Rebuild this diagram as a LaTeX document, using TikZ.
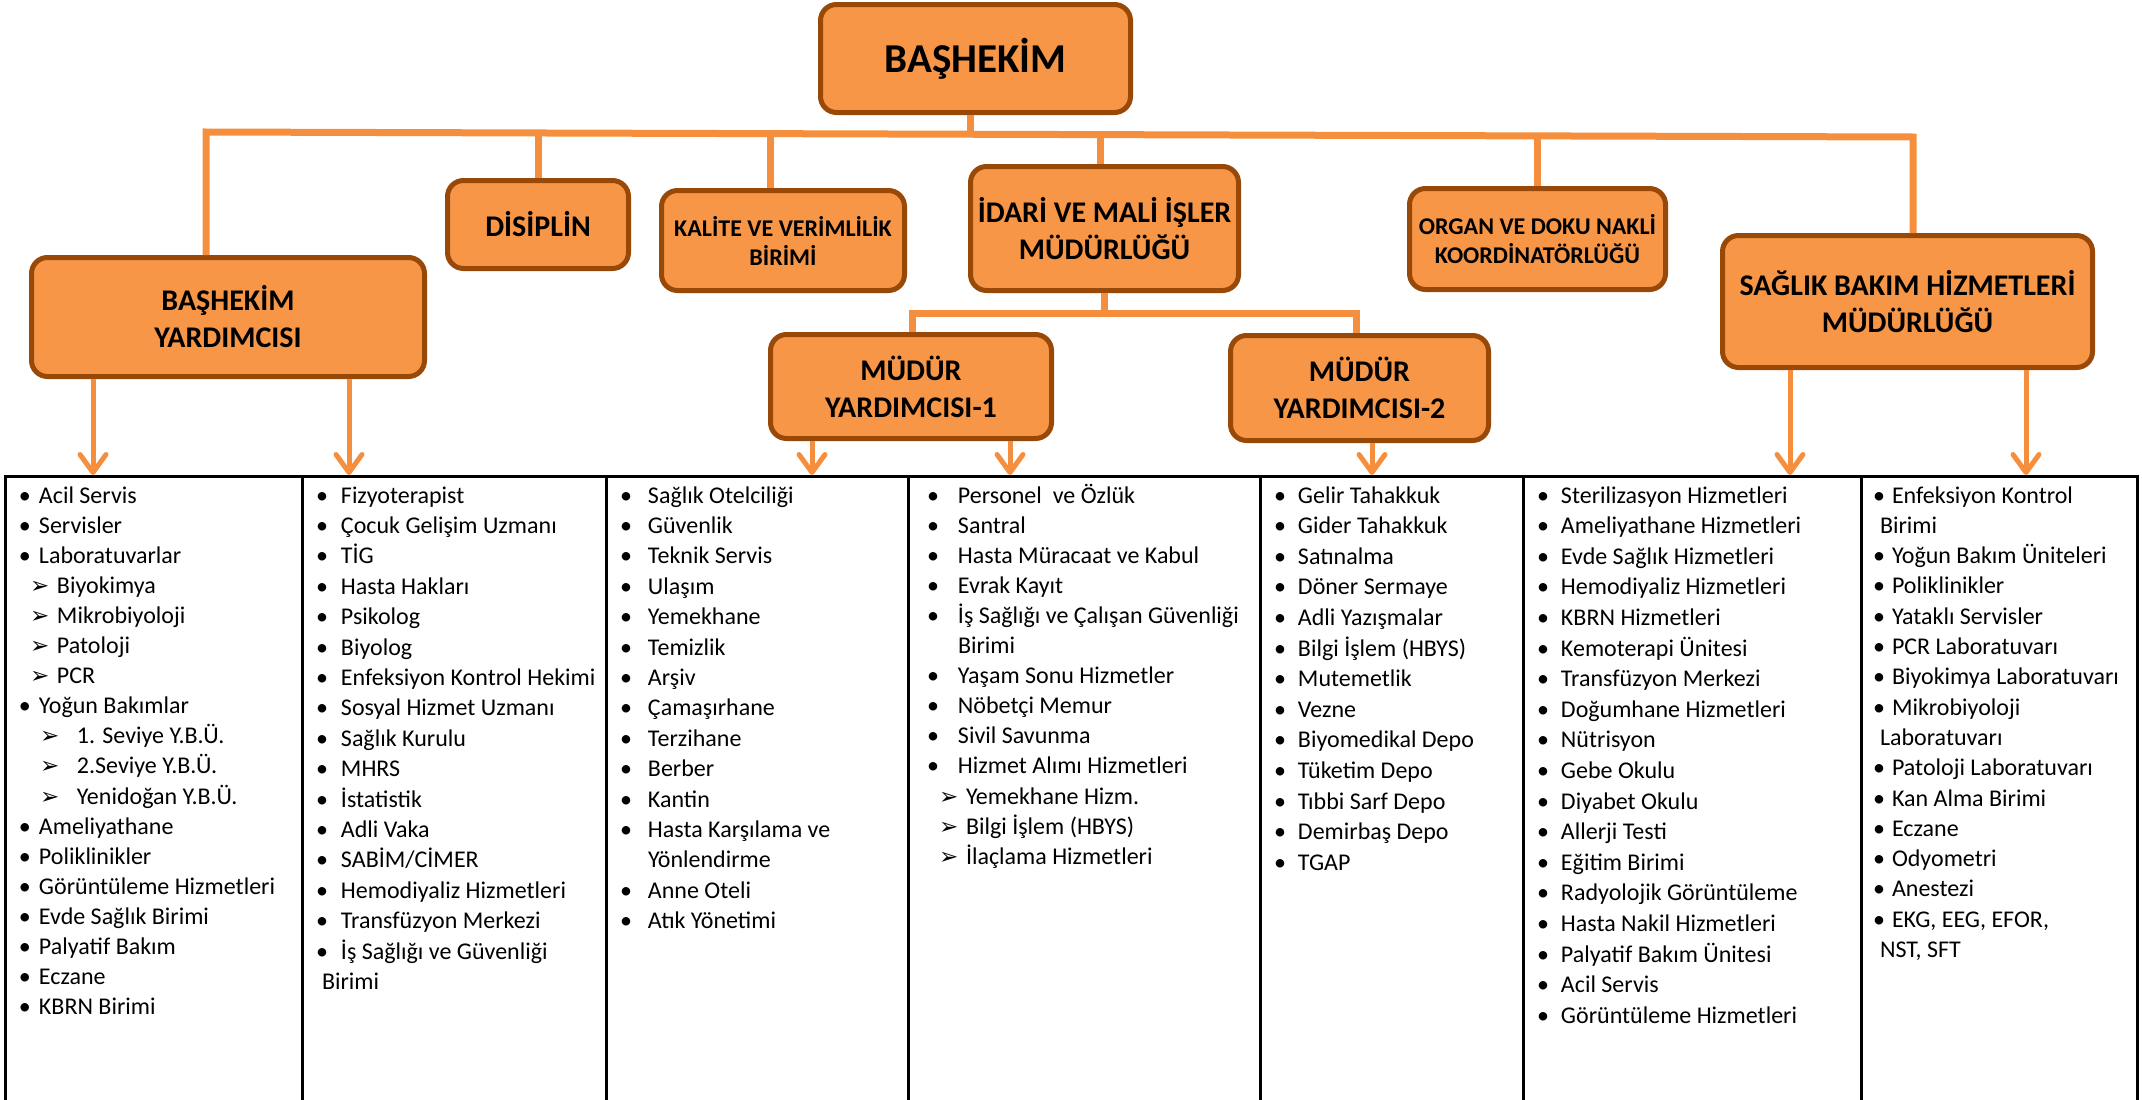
\documentclass[tikz,border=0pt]{standalone}
\usepackage{fontspec}
\setmainfont{Carlito}
\newfontfamily\dejavu{DejaVu Sans}
\usetikzlibrary{arrows.meta}
\definecolor{boxfill}{HTML}{F79646}
\definecolor{boxedge}{HTML}{984807}
\definecolor{linkc}{RGB}{245,143,62}
\newcommand\bl[1]{\makebox[#1][l]{•}}
\newcommand\ar[2]{\hspace*{#1}\makebox[#2][l]{{\dejavu\fontsize{23}{23}\selectfont ➢}}}
\newcommand\ind[1]{\hspace*{#1}}
\tikzset{
  obox/.style={draw=boxedge, fill=boxfill, line width=5pt, rounded corners=16pt,
    align=center, inner sep=0pt, font=\bfseries\fontsize{30}{37}\selectfont},
  sbox/.style={obox, font=\bfseries\fontsize{24}{29}\selectfont},
  link/.style={draw=linkc, line width=7pt},
  arr/.style={draw=linkc, line width=5pt, -{Straight Barb[length=18pt,width=26pt,round]}},
  tbl/.style={draw=black, line width=3pt},
  lst/.style={anchor=base west, inner sep=0pt, outer sep=0pt, font=\fontsize{24}{#1}\selectfont},
}
\begin{document}
\begin{tikzpicture}[x=1pt,y=-1pt]
\useasboundingbox (0,0) rectangle (2142,1100);
% boxes
\node[obox, minimum width=310pt, minimum height=108pt, font=\bfseries\fontsize{41}{44}\selectfont] (bas) at (975.5,58.5) {BAŞHEKİM};
\node[obox, minimum width=393pt, minimum height=119pt] (by) at (228,317) {BAŞHEKİM\\YARDIMCISI};
\node[obox, minimum width=181pt, minimum height=88pt] (dis) at (538,224.5) {DİSİPLİN};
\node[sbox, minimum width=243pt, minimum height=100pt] (kal) at (783,240.5) {KALİTE VE VERİMLİLİK\\BİRİMİ};
\node[obox, minimum width=268pt, minimum height=124pt] (ida) at (1104.5,228.5) {İDARİ VE MALİ İŞLER\\MÜDÜRLÜĞÜ};
\node[obox, minimum width=281pt, minimum height=104pt] (my1) at (911,386.5) {MÜDÜR\\YARDIMCISI-1};
\node[obox, minimum width=258pt, minimum height=105pt] (my2) at (1359.5,388) {MÜDÜR\\YARDIMCISI-2};
\node[sbox, minimum width=256pt, minimum height=101pt] (org) at (1537.5,239) {ORGAN VE DOKU NAKLİ\\KOORDİNATÖRLÜĞÜ};
\node[obox, minimum width=370pt, minimum height=132pt] (sag) at (1907.5,301.5) {SAĞLIK BAKIM HİZMETLERİ\\MÜDÜRLÜĞÜ};
% bus coordinates
\coordinate (bL) at (206,132);
\coordinate (bR) at (1913,137);
\coordinate (jbas) at (970,134.2);
\coordinate (jdis) at (538,133);
\coordinate (jkal) at (770,133.6);
\coordinate (jida) at (1100,134.6);
\coordinate (jorg) at (1537,135.9);
\coordinate (kI) at (1104,313);
\coordinate (kL) at (912,313);
\coordinate (kR) at (1356,313);
\draw[link] (by.north -| bL) -- (bL) -- (bR) -- (sag.north -| bR);
\draw[link] (bas.south -| jbas) -- (jbas);
\draw[link] (jdis) -- (jdis |- dis.north);
\draw[link] (jkal) -- (jkal |- kal.north);
\draw[link] (jida) -- (jida |- ida.north);
\draw[link] (jorg) -- (jorg |- org.north);
\draw[link] (ida.south -| kI) -- (kI);
\draw[link] (my1.north -| kL) -- (kL) -- (kR) -- (my2.north -| kR);
% arrow ends
\coordinate (t1) at (93,475);
\coordinate (t2) at (349,475);
\coordinate (t3) at (812,475);
\coordinate (t4) at (1010,475);
\coordinate (t5) at (1372,475);
\coordinate (t6) at (1790,475);
\coordinate (t7) at (2026,475);
\draw[arr] (by.south -| t1) -- (t1);
\draw[arr] (by.south -| t2) -- (t2);
\draw[arr] (my1.south -| t3) -- (t3);
\draw[arr] (my1.south -| t4) -- (t4);
\draw[arr] (my2.south -| t5) -- (t5);
\draw[arr] (sag.south -| t6) -- (t6);
\draw[arr] (sag.south -| t7) -- (t7);
% table
\draw[tbl] (5,1102) -- (5,476) -- (2137,476) -- (2137,1102);
\foreach \xx in {302,606,908,1260,1523,1861} { \draw[tbl] (\xx,476) -- (\xx,1102); }
% lists
\node[lst=30.1] (c1) at (19,503) {\parbox[t]{290pt}{\raggedright
\bl{20pt}Acil Servis\\
\bl{20pt}Servisler\\
\bl{20pt}Laboratuvarlar\\
\ar{11pt}{27pt}Biyokimya\\
\ar{11pt}{27pt}Mikrobiyoloji\\
\ar{11pt}{27pt}Patoloji\\
\ar{11pt}{27pt}PCR\\
\bl{20pt}Yoğun Bakımlar\\
\ar{21pt}{37pt}1. Seviye Y.B.Ü.\\
\ar{21pt}{37pt}2.Seviye Y.B.Ü.\\
\ar{21pt}{37pt}Yenidoğan Y.B.Ü.\\
\bl{20pt}Ameliyathane\\
\bl{20pt}Poliklinikler\\
\bl{20pt}Görüntüleme Hizmetleri\\
\bl{20pt}Evde Sağlık Birimi\\
\bl{20pt}Palyatif Bakım\\
\bl{20pt}Eczane\\
\bl{20pt}KBRN Birimi}};
\node[lst=30.4] (c2) at (316,503) {\parbox[t]{400pt}{\raggedright
\bl{25pt}Fizyoterapist\\
\bl{25pt}Çocuk Gelişim Uzmanı\\
\bl{25pt}TİG\\
\bl{25pt}Hasta Hakları\\
\bl{25pt}Psikolog\\
\bl{25pt}Biyolog\\
\bl{25pt}Enfeksiyon Kontrol Hekimi\\
\bl{25pt}Sosyal Hizmet Uzmanı\\
\bl{25pt}Sağlık Kurulu\\
\bl{25pt}MHRS\\
\bl{25pt}İstatistik\\
\bl{25pt}Adli Vaka\\
\bl{25pt}SABİM/CİMER\\
\bl{25pt}Hemodiyaliz Hizmetleri\\
\bl{25pt}Transfüzyon Merkezi\\
\bl{25pt}İş Sağlığı ve Güvenliği\\
\ind{6pt}Birimi}};
\node[lst=30.4] (c3) at (620,503) {\parbox[t]{400pt}{\raggedright
\bl{28pt}Sağlık Otelciliği\\
\bl{28pt}Güvenlik\\
\bl{28pt}Teknik Servis\\
\bl{28pt}Ulaşım\\
\bl{28pt}Yemekhane\\
\bl{28pt}Temizlik\\
\bl{28pt}Arşiv\\
\bl{28pt}Çamaşırhane\\
\bl{28pt}Terzihane\\
\bl{28pt}Berber\\
\bl{28pt}Kantin\\
\bl{28pt}Hasta Karşılama ve\\
\ind{28pt}Yönlendirme\\
\bl{28pt}Anne Oteli\\
\bl{28pt}Atık Yönetimi}};
\node[lst=30.1] (c4) at (927,503) {\parbox[t]{400pt}{\raggedright
\bl{31pt}Personel\ \ ve Özlük\\
\bl{31pt}Santral\\
\bl{31pt}Hasta Müracaat ve Kabul\\
\bl{31pt}Evrak Kayıt\\
\bl{31pt}İş Sağlığı ve Çalışan Güvenliği\\
\ind{31pt}Birimi\\
\bl{31pt}Yaşam Sonu Hizmetler\\
\bl{31pt}Nöbetçi Memur\\
\bl{31pt}Sivil Savunma\\
\bl{31pt}Hizmet Alımı Hizmetleri\\
\ar{12pt}{27pt}Yemekhane Hizm.\\
\ar{12pt}{27pt}Bilgi İşlem (HBYS)\\
\ar{12pt}{27pt}İlaçlama Hizmetleri}};
\node[lst=30.6] (c5) at (1274,503) {\parbox[t]{400pt}{\raggedright
\bl{24pt}Gelir Tahakkuk\\
\bl{24pt}Gider Tahakkuk\\
\bl{24pt}Satınalma\\
\bl{24pt}Döner Sermaye\\
\bl{24pt}Adli Yazışmalar\\
\bl{24pt}Bilgi İşlem (HBYS)\\
\bl{24pt}Mutemetlik\\
\bl{24pt}Vezne\\
\bl{24pt}Biyomedikal Depo\\
\bl{24pt}Tüketim Depo\\
\bl{24pt}Tıbbi Sarf Depo\\
\bl{24pt}Demirbaş Depo\\
\bl{24pt}TGAP}};
\node[lst=30.6] (c6) at (1537,503) {\parbox[t]{400pt}{\raggedright
\bl{24pt}Sterilizasyon Hizmetleri\\
\bl{24pt}Ameliyathane Hizmetleri\\
\bl{24pt}Evde Sağlık Hizmetleri\\
\bl{24pt}Hemodiyaliz Hizmetleri\\
\bl{24pt}KBRN Hizmetleri\\
\bl{24pt}Kemoterapi Ünitesi\\
\bl{24pt}Transfüzyon Merkezi\\
\bl{24pt}Doğumhane Hizmetleri\\
\bl{24pt}Nütrisyon\\
\bl{24pt}Gebe Okulu\\
\bl{24pt}Diyabet Okulu\\
\bl{24pt}Allerji Testi\\
\bl{24pt}Eğitim Birimi\\
\bl{24pt}Radyolojik Görüntüleme\\
\bl{24pt}Hasta Nakil Hizmetleri\\
\bl{24pt}Palyatif Bakım Ünitesi\\
\bl{24pt}Acil Servis\\
\bl{24pt}Görüntüleme Hizmetleri}};
\node[lst=30.3] (c7) at (1873,503) {\parbox[t]{400pt}{\raggedright
\bl{19pt}Enfeksiyon Kontrol\\
\ind{7pt}Birimi\\
\bl{19pt}Yoğun Bakım Üniteleri\\
\bl{19pt}Poliklinikler\\
\bl{19pt}Yataklı Servisler\\
\bl{19pt}PCR Laboratuvarı\\
\bl{19pt}Biyokimya Laboratuvarı\\
\bl{19pt}Mikrobiyoloji\\
\ind{7pt}Laboratuvarı\\
\bl{19pt}Patoloji Laboratuvarı\\
\bl{19pt}Kan Alma Birimi\\
\bl{19pt}Eczane\\
\bl{19pt}Odyometri\\
\bl{19pt}Anestezi\\
\bl{19pt}EKG, EEG, EFOR,\\
\ind{7pt}NST, SFT}};
\end{tikzpicture}
\end{document}
